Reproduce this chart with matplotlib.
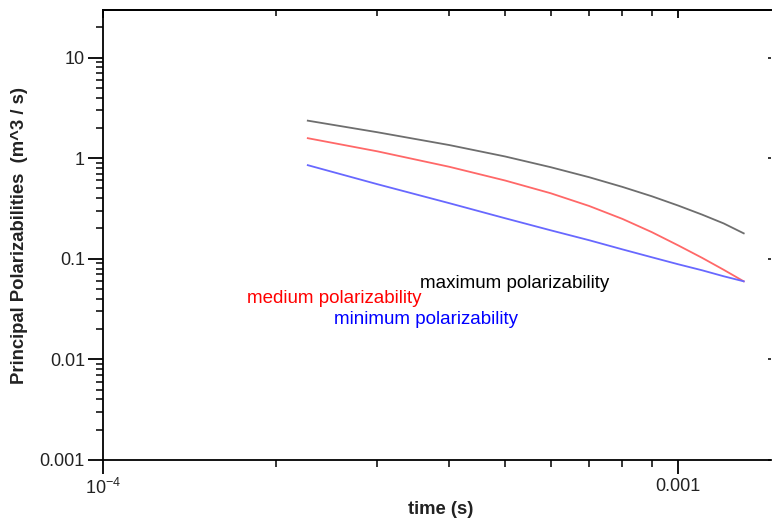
import matplotlib.pyplot as plt
from matplotlib.ticker import LogLocator, FixedLocator, FixedFormatter, NullFormatter

plt.rcParams['font.family'] = ['Liberation Sans', 'DejaVu Sans']
plt.rcParams['mathtext.fontset'] = 'custom'
plt.rcParams['mathtext.rm'] = 'Liberation Sans'
plt.rcParams['mathtext.default'] = 'regular'

# Data
time_s = [2.27e-4, 3e-4, 4e-4, 5e-4, 6e-4, 7e-4, 8e-4, 9e-4, 1e-3, 1.1e-3, 1.2e-3, 1.3e-3]
max_pol = [2.36, 1.81, 1.35, 1.04, 0.814, 0.647, 0.518, 0.418, 0.338, 0.275, 0.2245, 0.179]
med_pol = [1.58, 1.169, 0.821, 0.600, 0.4485, 0.335, 0.249, 0.1839, 0.1359, 0.1023, 0.0777, 0.0597]
min_pol = [0.852, 0.551, 0.357, 0.253, 0.192, 0.153, 0.124, 0.1035, 0.0882, 0.0769, 0.0670, 0.0597]

x_ticks = [1e-4, 1e-3]
x_tick_labels = ['$10^{-4}$', '0.001']
y_ticks = [0.001, 0.01, 0.1, 1, 10]
y_tick_labels = ['0.001', '0.01', '0.1', '1', '10']

fig = plt.figure(figsize=(7.72, 5.23), dpi=100)
ax = fig.add_axes([103 / 772, 1 - 460 / 523, (771 - 103) / 772, 450 / 523])

ax.plot(time_s, max_pol, color='#6e6e6e', lw=1.3)
ax.plot(time_s, med_pol, color='#ff6868', lw=1.3)
ax.plot(time_s, min_pol, color='#6868ff', lw=1.3)

ax.set_xscale('log')
ax.set_yscale('log')
ax.set_xlim(1e-4, 1.45e-3)
ax.set_ylim(1e-3, 29.7)

# Axes ticks
ax.xaxis.set_major_locator(FixedLocator(x_ticks))
ax.xaxis.set_major_formatter(FixedFormatter(x_tick_labels))
ax.xaxis.set_minor_locator(LogLocator(base=10, subs=range(2, 10)))
ax.xaxis.set_minor_formatter(NullFormatter())
ax.yaxis.set_major_locator(FixedLocator(y_ticks))
ax.yaxis.set_major_formatter(FixedFormatter(y_tick_labels))
ax.yaxis.set_minor_locator(LogLocator(base=10, subs=range(2, 10)))
ax.yaxis.set_minor_formatter(NullFormatter())

ax.tick_params(axis='x', which='major', direction='out', length=10, width=1.3,
               labelsize=13, labelcolor='#222222', pad=3)
ax.tick_params(axis='x', which='minor', direction='out', length=5, width=1.1)
ax.tick_params(axis='y', which='major', direction='out', length=11, width=1.3,
               labelsize=13, labelcolor='#222222', pad=2)
ax.tick_params(axis='y', which='minor', direction='out', length=5, width=1.1)

for side in ['left', 'bottom', 'top']:
    ax.spines[side].set_linewidth(1.3)
ax.spines['right'].set_visible(False)

# Inward ticks on the top edge and tiny major ticks on the right edge
top = ax.secondary_xaxis('top')
top.set_xscale('log')
top.xaxis.set_major_locator(FixedLocator(x_ticks))
top.xaxis.set_minor_locator(LogLocator(base=10, subs=range(2, 10)))
top.xaxis.set_major_formatter(NullFormatter())
top.xaxis.set_minor_formatter(NullFormatter())
top.tick_params(which='major', direction='in', length=6, width=1.3)
top.tick_params(which='minor', direction='in', length=4, width=1.1)
top.spines['top'].set_linewidth(1.3)

right = ax.secondary_yaxis('right')
right.yaxis.set_major_locator(FixedLocator(y_ticks))
right.yaxis.set_minor_locator(FixedLocator([]))
right.yaxis.set_major_formatter(NullFormatter())
right.tick_params(which='major', direction='in', length=2, width=1.1)
right.spines['right'].set_visible(False)

# Text labels for the curves
ax.text(3.56e-4, 0.057, 'maximum polarizability', color='black', fontsize=13.5,
        va='center', ha='left')
ax.text(1.78e-4, 0.0405, 'medium polarizability', color='red', fontsize=13.5,
        va='center', ha='left')
ax.text(2.52e-4, 0.025, 'minimum polarizability', color='blue', fontsize=13.5,
        va='center', ha='left')

fig.text(441 / 772, 1 - 510 / 523, 'time (s)', fontsize=13.3, fontweight='bold',
         ha='center', va='center', color='#222222')
fig.text(20 / 772, 1 - 236 / 523, 'Principal Polarizabilities  (m^3 / s)', fontsize=13.3,
         fontweight='bold', rotation=90, ha='center', va='center', color='#222222')

plt.savefig('out.png', dpi=100)
